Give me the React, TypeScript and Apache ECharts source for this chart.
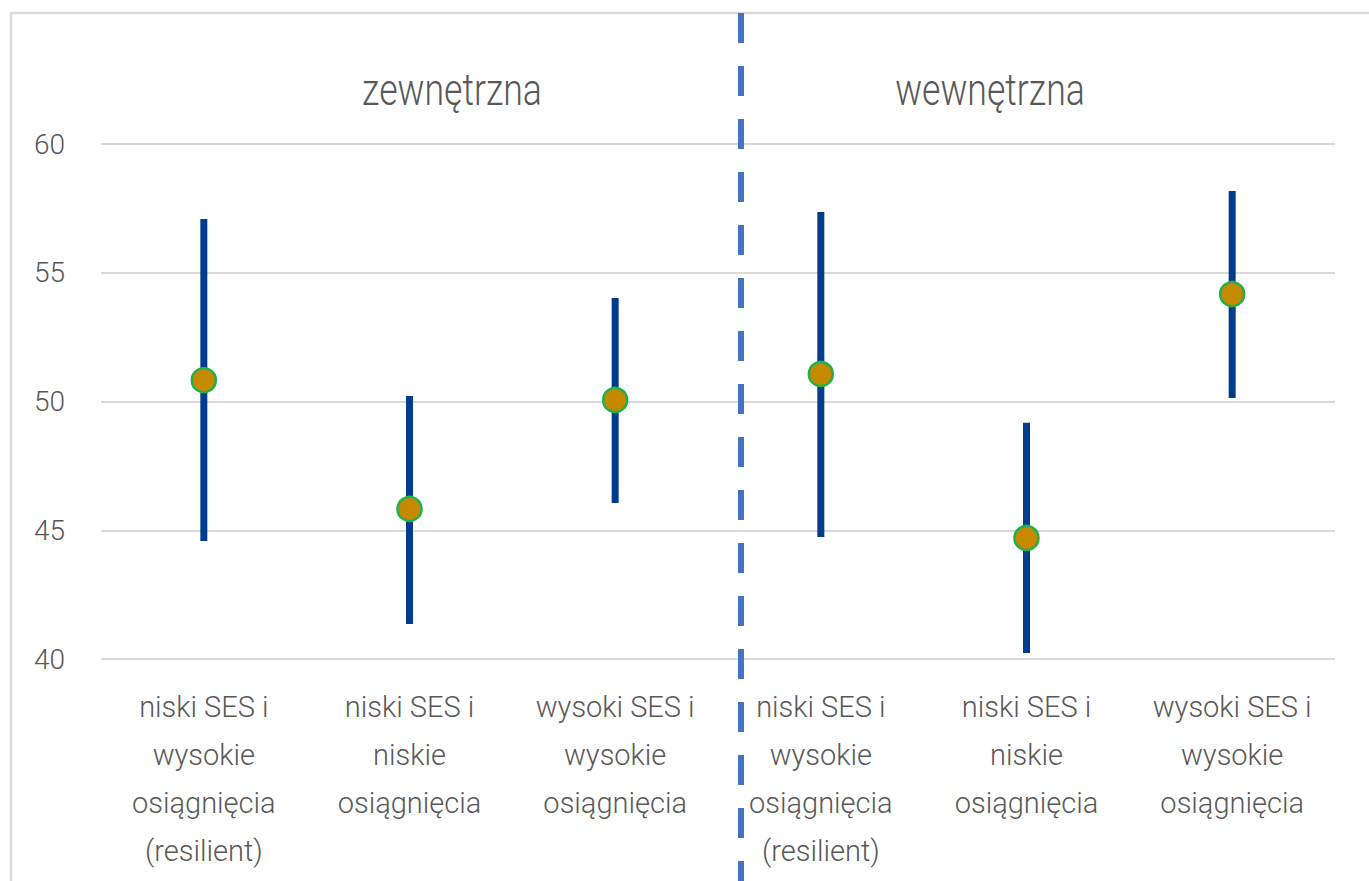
import React, { useEffect, useRef } from "react";
import * as echarts from "echarts";

const categories = [
  "niski SES i\nwysokie\nosiągnięcia\n(resilient)",
  "niski SES i\nniskie\nosiągnięcia",
  "wysoki SES i\nwysokie\nosiągnięcia",
  "niski SES i\nwysokie\nosiągnięcia\n(resilient)",
  "niski SES i\nniskie\nosiągnięcia",
  "wysoki SES i\nwysokie\nosiągnięcia",
];
const means = [50.83, 45.83, 50.06, 51.07, 44.7, 54.17];
const lows = [44.58, 41.36, 46.06, 44.74, 40.23, 50.14];
const highs = [57.09, 50.21, 54.02, 57.36, 49.17, 58.17];
const groupTitles = ["zewnętrzna", "wewnętrzna"];
const yMin = 40;
const yMax = 60;
const yStep = 5;

export default function App() {
  const ref = useRef<HTMLDivElement>(null);
  useEffect(() => {
    if (!ref.current) return;
    const chart = echarts.init(ref.current, null, { renderer: "svg" });
    const textColor = "#595959";
    const font = "Roboto";
    chart.setOption({
      animation: false,
      backgroundColor: "#ffffff",
      grid: { left: 101, right: 34, top: 144, bottom: 222, containLabel: false },
      xAxis: {
        type: "category",
        data: categories,
        axisLine: { show: false },
        axisTick: { show: false },
        axisLabel: {
          interval: 0,
          color: textColor,
          fontFamily: font,
          fontWeight: 300,
          fontSize: 29,
          lineHeight: 48,
          margin: 24,
        },
      },
      yAxis: {
        type: "value",
        min: yMin,
        max: yMax,
        interval: yStep,
        axisLine: { show: false },
        axisTick: { show: false },
        axisLabel: {
          color: textColor,
          fontFamily: font,
          fontWeight: 300,
          fontSize: 28,
          margin: 36,
        },
        splitLine: { lineStyle: { color: "#D9D9D9", width: 2 } },
      },
      graphic: [
        {
          type: "rect",
          shape: { x: 11, y: 13, width: 1420, height: 920 },
          style: { fill: "none", stroke: "#D9D9D9", lineWidth: 2.5 },
          z: 0,
        },
        {
          type: "line",
          shape: { x1: 741, y1: 13, x2: 741, y2: 881 },
          style: { stroke: "#4472C4", lineWidth: 6, lineDash: [30, 23] },
          z: 100,
        },
        {
          type: "text",
          x: 452,
          y: 90,
          scaleX: 0.81,
          style: {
            text: groupTitles[0],
            fill: textColor,
            font: "300 44px Roboto",
            align: "center",
            verticalAlign: "middle",
          },
        },
        {
          type: "text",
          x: 990,
          y: 90,
          scaleX: 0.81,
          style: {
            text: groupTitles[1],
            fill: textColor,
            font: "300 44px Roboto",
            align: "center",
            verticalAlign: "middle",
          },
        },
      ],
      series: [
        {
          type: "custom",
          data: categories.map((_, i) => [i, lows[i], highs[i]]),
          encode: { x: 0, y: [1, 2] },
          renderItem: (_params: any, api: any) => {
            const p1 = api.coord([api.value(0), api.value(1)]);
            const p2 = api.coord([api.value(0), api.value(2)]);
            return {
              type: "line",
              shape: { x1: p1[0], y1: p1[1], x2: p2[0], y2: p2[1] },
              style: { stroke: "#023C8C", lineWidth: 7 },
            };
          },
          z: 2,
        },
        {
          type: "scatter",
          data: categories.map((_, i) => [i, means[i]]),
          symbol: "circle",
          symbolSize: 24,
          itemStyle: { color: "#C68A00", borderColor: "#22B04B", borderWidth: 2.5, opacity: 1 },
          z: 3,
        },
      ],
    });
    return () => chart.dispose();
  }, []);
  return (
    <div
      ref={ref}
      style={{ position: "absolute", left: 0, top: 0, width: 1369, height: 881 }}
    />
  );
}
